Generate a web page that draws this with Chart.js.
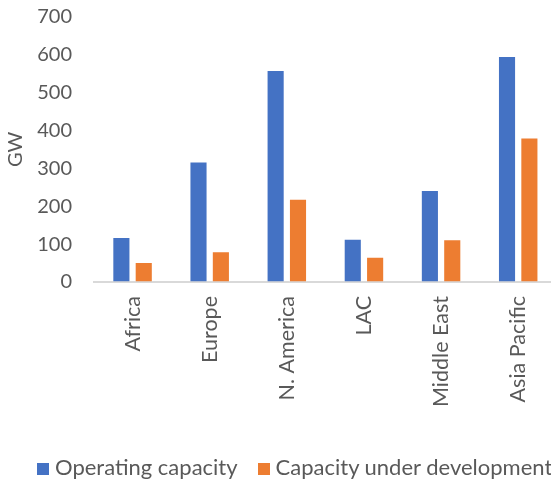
<!DOCTYPE html>
<html>
<head>
<meta charset="utf-8">
<script src="https://cdn.jsdelivr.net/npm/chart.js@4.4.1/dist/chart.umd.min.js"></script>
<style>
  html, body { margin: 0; padding: 0; background: #fff; overflow: hidden; }
  #wrap { position: absolute; left: 0; top: 0; width: 558px; height: 479px; }
  #legend {
    position: absolute; left: 37px; top: 453px; white-space: nowrap;
    font-family: Lato, "Open Sans", sans-serif; font-size: 22px; color: #595959;
  }
  #legend .item { display: inline-block; margin-right: 20px; }
  #legend .box { display: inline-block; width: 12px; height: 12px; margin-right: 6px; vertical-align: 0px; }
</style>
</head>
<body>
<div id="wrap"><canvas id="chart"></canvas></div>
<div id="legend"></div>
<script>
// regions and capacity figures (GW)
const regions = ['Africa', 'Europe', 'N. America', 'LAC', 'Middle East', 'Asia Pacific'];
const operating = [119, 318, 560, 114, 243, 597];
const underDevelopment = [53, 81, 220, 67, 113, 382];
const yTicks = [0, 100, 200, 300, 400, 500, 600, 700];

const textColor = '#595959';
const fontFamily = 'Lato, "Open Sans", sans-serif';

const ctx = document.getElementById('chart').getContext('2d');
const chart = new Chart(ctx, {
    type: 'bar',
    data: {
        labels: regions,
        datasets: [{
            label: 'Operating capacity',
            data: operating,
            backgroundColor: '#4472C4',
            borderColor: 'rgba(255,255,255,0.45)',
            borderWidth: 1,
            categoryPercentage: 0.58,
            barPercentage: 0.81
        }, {
            label: 'Capacity under development',
            data: underDevelopment,
            backgroundColor: '#ED7D31',
            borderColor: 'rgba(255,255,255,0.45)',
            borderWidth: 1,
            categoryPercentage: 0.58,
            barPercentage: 0.81
        }]
    },
    options: {
        responsive: true,
        maintainAspectRatio: false,
        animation: false,
        layout: { padding: { top: 17, left: 0, right: 0, bottom: 0 } },
        plugins: {
            tooltip: { enabled: false },
            legend: { display: false }
        },
        scales: {
            x: {
                grid: { display: false, drawTicks: false },
                border: { display: true, color: '#D9D9D9', width: 2 },
                afterFit: axis => { axis.height = 197; },
                ticks: {
                    color: textColor,
                    font: { family: fontFamily, size: 21.5 },
                    minRotation: 90,
                    maxRotation: 90,
                    padding: 14
                }
            },
            y: {
                min: 0,
                max: 700,
                afterBuildTicks: axis => { axis.ticks = yTicks.map(v => ({ value: v })); },
                afterFit: axis => { axis.width = 94; },
                // invisible tick marks keep the labels away from the plot
                grid: { display: true, drawOnChartArea: false, drawTicks: true, tickLength: 22, color: 'transparent' },
                border: { display: false },
                title: {
                    display: true,
                    text: 'GW',
                    color: textColor,
                    font: { family: fontFamily, size: 20 },
                    padding: { top: 4, bottom: 0 }
                },
                ticks: {
                    color: textColor,
                    font: { family: fontFamily, size: 20 },
                    padding: 0
                }
            }
        }
    }
});

// legend built from the datasets
const legend = document.getElementById('legend');
chart.data.datasets.forEach(ds => {
    const item = document.createElement('span');
    item.className = 'item';
    const box = document.createElement('span');
    box.className = 'box';
    box.style.background = ds.backgroundColor;
    item.appendChild(box);
    item.appendChild(document.createTextNode(ds.label));
    legend.appendChild(item);
});
</script>
</body>
</html>
